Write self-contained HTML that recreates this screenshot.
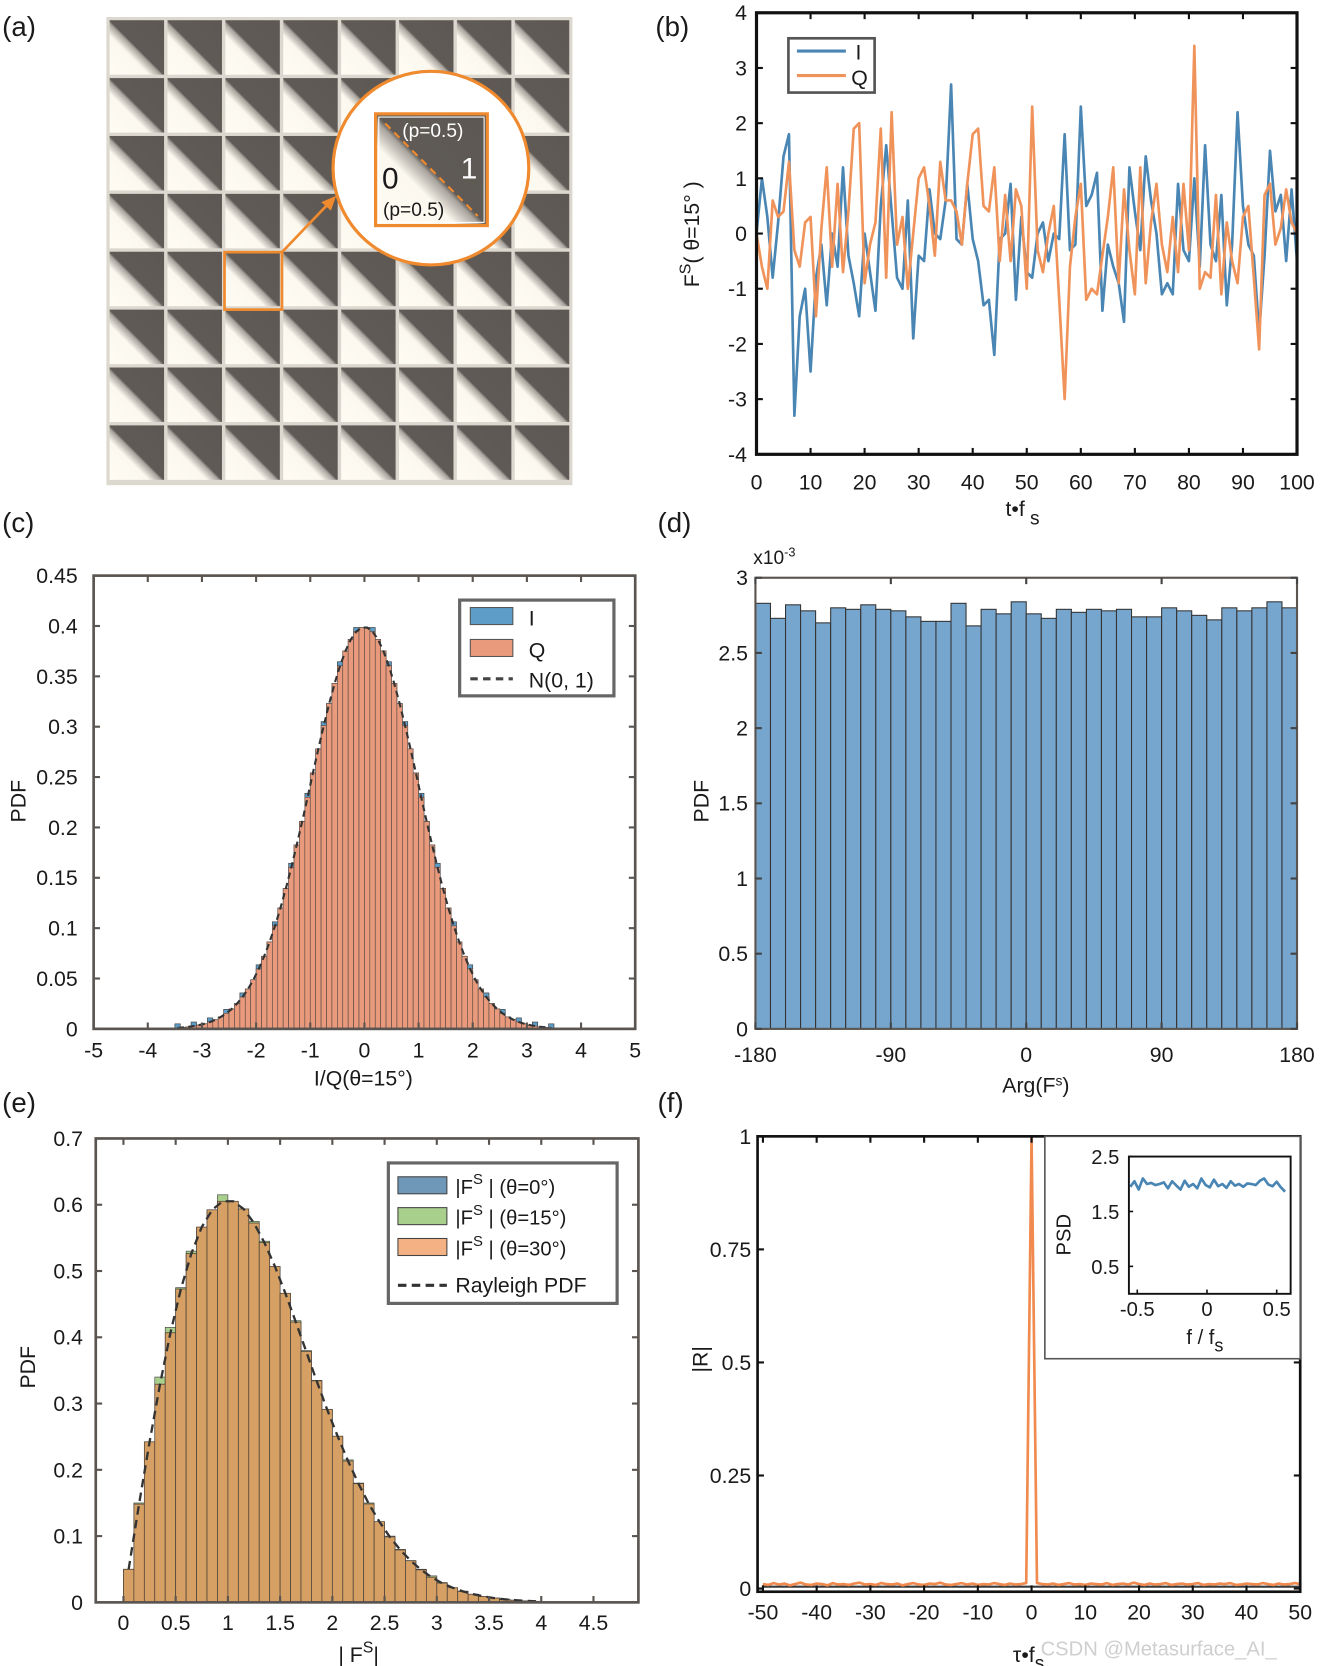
<!DOCTYPE html>
<html><head><meta charset="utf-8"><style>
html,body{margin:0;padding:0;background:#fff}
svg{display:block}
text{font-family:"Liberation Sans",sans-serif;fill:#1a1a1a}
</style></head><body>
<svg id="fig" xmlns="http://www.w3.org/2000/svg" width="1325" height="1666" viewBox="0 0 1245.3 1565.8" preserveAspectRatio="none">
<defs>
<linearGradient id="cellg" x1="0" y1="1" x2="1" y2="0">
<stop offset="0" stop-color="#fffcf3"/><stop offset="0.36" stop-color="#fbf8ef"/><stop offset="0.47" stop-color="#a9a49d"/><stop offset="0.5" stop-color="#5f5a55"/><stop offset="1" stop-color="#5d5853"/>
</linearGradient>
</defs>
<g id="pa"></g>
<g id="pb"></g>
<g id="pc"></g>
<g id="pd"></g>
<g id="pe"></g>
<g id="pf"></g>
</svg>
<script>
// ---- data ----
const bT = [0,10,20,30,40,50,60,70,80,90,100];
const bYT = [-4,-3,-2,-1,0,1,2,3,4];
const seriesI = [0,1,0.3,-0.8,0.2,1.4,1.8,-3.3,-1.5,-1,-2.5,-0.8,-0.2,-1.3,0,-0.6,1.2,-0.4,-0.9,-1.5,0,-0.7,-1.4,0.5,1.6,0.4,-0.8,-1,0.6,-1.9,-0.4,-0.5,0.8,0,-0.1,0.6,2.7,-0.1,-0.2,0.9,-0.1,-0.5,-1.3,-1.2,-2.2,-0.1,0,0.9,-1.2,0.3,-0.7,-0.8,0,0.2,-0.5,0,-0.1,1.8,-0.3,-0.2,2.3,0.5,0.7,1.1,-1.4,-0.2,-0.6,-0.9,-1.6,1.2,0.4,-0.3,1.4,0.6,0,-1.1,-0.9,-1.1,0.9,-0.3,-0.5,1,-0.6,1.6,-0.2,-0.5,0.7,-1.3,-0.2,2.2,0.5,-0.2,-0.4,-1.8,-0.4,1.5,0.4,0.7,-0.5,0.8,-0.5];
const seriesQ = [0,-0.6,-1,0.6,0.3,0.4,1.3,-0.3,-0.6,0.2,0.3,-1.5,0.1,1.2,-0.6,0.9,-0.7,0.4,1.9,2,-0.9,-0.2,0.2,1.9,-0.8,2.2,-0.2,0.3,-1,0,1,1.2,0.5,-0.4,1.3,0.6,0.6,0.4,-0.2,0.9,1.8,1.9,0.5,0.4,1.2,-0.5,0.7,-0.5,0.8,0.5,-1,2.3,-0.3,-0.7,0,0.5,-1.2,-3,-0.6,0.3,0.9,-1.2,-1,-1.1,-0.4,0.3,1.2,-0.9,0.8,-0.3,-1.1,1.2,-0.9,0.2,0.9,-0.2,-0.7,0.3,-0.7,0.9,-0.3,3.4,-1,-0.7,-0.8,0.7,-1.1,0.2,-0.5,-0.9,0.3,0.5,-0.8,-2.1,0.7,0.9,-0.2,0.1,0.8,0.2,0];

const cXT = [-5,-4,-3,-2,-1,0,1,2,3,4,5];
const cYT = [0,0.05,0.1,0.15,0.2,0.25,0.3,0.35,0.4,0.45];
const cBinStart = -3.5;
const cBinW = 0.1;
const cHalf = [0.0010,0.0015,0.0020,0.0028,0.0038,0.0051,0.0069,0.0091,0.0119,0.0154,0.0198,0.0252,0.0317,0.0396,0.0488,0.0596,0.0721,0.0863,0.1023,0.1200,0.1394,0.1604,0.1826,0.2059,0.2299,0.2541,0.2780,0.3011,0.3230,0.3429,0.3605,0.3752,0.3867,0.3945,0.3984];
const cQ = cHalf.concat(cHalf.slice().reverse());
const cI = cQ.map((v,i)=> v + ((i%3===0)?0.004:0));

const dXT = [-180,-90,0,90,180];
const dYT = [0,0.5,1,1.5,2,2.5,3];
const dVals = [2.83,2.73,2.82,2.78,2.70,2.80,2.79,2.82,2.79,2.78,2.74,2.71,2.71,2.83,2.68,2.79,2.76,2.84,2.76,2.73,2.79,2.77,2.79,2.78,2.79,2.74,2.74,2.80,2.78,2.75,2.72,2.80,2.78,2.80,2.84,2.80];

const eXT = [0,0.5,1,1.5,2,2.5,3,3.5,4,4.5];
const eXL = ["0","0.5","1","1.5","2","2.5","3","3.5","4","4.5"];
const eYT = [0,0.1,0.2,0.3,0.4,0.5,0.6,0.7];
const eBinW = 0.1;
const eVals = [0.0499,0.1483,0.2423,0.3292,0.4068,0.4729,0.5263,0.5663,0.5924,0.6052,0.6052,0.5937,0.5724,0.5428,0.5069,0.4664,0.4230,0.3786,0.3343,0.2913,0.2508,0.2133,0.1791,0.1485,0.1218,0.0988,0.0791,0.0628,0.0491,0.0380,0.0291,0.0221,0.0165,0.0123,0.0090,0.0065,0.0047,0.0033,0.0023,0.0016];
const eVals15 = [0.05,0.15,0.24,0.34,0.415,0.475,0.53,0.565,0.59,0.615,0.6,0.59,0.575,0.545,0.505,0.465,0.425,0.38,0.335,0.29,0.25,0.215,0.18,0.15,0.12,0.1,0.08,0.063,0.05,0.04,0.03,0.022,0.017,0.012,0.009,0.0065,0.0047,0.0033,0.0023,0.0016];

const fXT = [-50,-40,-30,-20,-10,0,10,20,30,40,50];
const fYT = [0,0.25,0.5,0.75,1];
const fYL = ["0","0.25","0.5","0.75","1"];
const fR = [0.01,0.008,0.012,0.009,0.011,0.007,0.01,0.013,0.009,0.008,0.011,0.01,0.007,0.012,0.009,0.01,0.008,0.011,0.013,0.009,0.01,0.008,0.012,0.01,0.009,0.011,0.007,0.01,0.012,0.009,0.008,0.011,0.01,0.013,0.009,0.008,0.01,0.012,0.009,0.011,0.008,0.01,0.009,0.012,0.01,0.008,0.011,0.009,0.01,0.012,1,0.012,0.01,0.009,0.011,0.008,0.01,0.012,0.009,0.01,0.008,0.011,0.01,0.009,0.012,0.008,0.01,0.011,0.009,0.013,0.01,0.008,0.011,0.009,0.01,0.012,0.008,0.01,0.011,0.009,0.01,0.012,0.008,0.01,0.009,0.011,0.01,0.012,0.008,0.009,0.011,0.01,0.009,0.012,0.01,0.008,0.011,0.009,0.01,0.012,0.01];
const fBase = [-50,50];
const fBaseV = [0.004,0.004];
const psdF = [-0.55,-0.52,-0.49,-0.46,-0.43,-0.4,-0.37,-0.34,-0.31,-0.28,-0.25,-0.22,-0.19,-0.16,-0.13,-0.1,-0.07,-0.04,-0.01,0.02,0.05,0.08,0.11,0.14,0.17,0.2,0.23,0.26,0.29,0.32,0.35,0.38,0.41,0.44,0.47,0.5,0.53,0.56];
const psdV = [1.95,2.05,1.9,2.1,2.0,2.02,1.98,2.0,2.03,1.92,2.05,1.97,1.9,2.06,1.95,2.0,1.92,2.1,1.98,1.94,2.08,1.96,2.0,1.93,2.05,1.97,2.0,1.95,2.01,2.0,1.98,2.06,2.1,1.99,1.96,2.04,1.94,1.86];
const psdXT = [-0.5,0,0.5];
const psdYT = [0.5,1.5,2.5];

// ---- helpers ----
const NS="http://www.w3.org/2000/svg";
function el(parent, tag, attrs, txt){
  const e=document.createElementNS(NS,tag);
  for(const k in attrs) e.setAttribute(k,attrs[k]);
  if(txt!==undefined) e.textContent=txt;
  parent.appendChild(e); return e;
}
function lin(d0,d1,r0,r1){return v=>r0+(v-d0)/(d1-d0)*(r1-r0);}

function frame(g,x0,y0,x1,y1,col,w,name){
  const r=el(g,'rect',{x:x0,y:y0,width:x1-x0,height:y1-y0,fill:'none',stroke:col,'stroke-width':w});
  
  
}
function xTicks(g,ticks,labels,sx,y0,y1,ly,fs,col,name){
  ticks.forEach((t,i)=>{
    const x=sx(t);
    el(g,'line',{x1:x,y1:y1,x2:x,y2:y1-6,stroke:col,'stroke-width':2});
    el(g,'line',{x1:x,y1:y0,x2:x,y2:y0+6,stroke:col,'stroke-width':2});
    const tx=el(g,'text',{x:x,y:ly,'font-size':fs,'text-anchor':'middle'},labels?labels[i]:String(t));
    
    
  });
}
function yTicks(g,ticks,labels,sy,x0,x1,lx,fs,col,name){
  ticks.forEach((t,i)=>{
    const y=sy(t);
    el(g,'line',{x1:x0,y1:y,x2:x0+6,y2:y,stroke:col,'stroke-width':2});
    el(g,'line',{x1:x1,y1:y,x2:x1-6,y2:y,stroke:col,'stroke-width':2});
    const tx=el(g,'text',{x:lx,y:y+7,'font-size':fs,'text-anchor':'end'},labels?labels[i]:String(t));
    
    
  });
}
function label(g,x,y,s,name,fs){
  const t=el(g,'text',{x:x,y:y,'font-size':fs||26},s);
  
  
  return t;
}
function poly(g,xs,ys,sx,sy,col,w,dash,name){
  const pts=xs.map((x,i)=>sx(x).toFixed(1)+','+sy(ys[i]).toFixed(1)).join(' ');
  const p=el(g,'polyline',{points:pts,fill:'none',stroke:col,'stroke-width':w,'stroke-linejoin':'round'});
  if(dash) p.setAttribute('stroke-dasharray',dash);
  
  
}

// ---- panel a ----
(function(){
  const g=document.getElementById('pa');
  label(g,2,34,'(a)','panel-a-label');
  el(g,'rect',{x:100,y:16,width:438,height:440,fill:'#dcd8cf'});
  const cw=54.4, gap=3.2;
  for(let r=0;r<8;r++)for(let c=0;c<8;c++){
    const cell=el(g,'rect',{x:103+c*cw,y:19+r*cw,width:cw-gap,height:cw-gap,fill:'url(#cellg)'});
    
    
  }
  const sel=el(g,'rect',{x:211,y:237,width:54,height:54,fill:'none',stroke:'#ef8a2e','stroke-width':2.5});
  
  
  const arr=el(g,'line',{x1:265,y1:237,x2:310,y2:190,stroke:'#ef8a2e','stroke-width':2.5});
  
  
  el(g,'polygon',{points:'316,184 302,190 311,198',fill:'#ef8a2e'});
  const circ=el(g,'ellipse',{cx:405,cy:158,rx:92,ry:91,fill:'#fff',stroke:'#ef8a2e','stroke-width':3});
  
  
  el(g,'rect',{x:353,y:107,width:105,height:105,fill:'url(#cellg)',stroke:'#ef8a2e','stroke-width':3});
  el(g,'rect',{x:356,y:110,width:99,height:99,fill:'none',stroke:'#fff','stroke-width':1});
  el(g,'line',{x1:362,y1:116,x2:449,y2:203,stroke:'#ef8a2e','stroke-width':2,'stroke-dasharray':'7,5'});
  label(g,378,129,'(p=0.5)','probability-top',18).style.fill='#fff';
  label(g,359,177,'0','bit-zero',28);
  label(g,433,168,'1','bit-one',28).style.fill='#fff';
  label(g,360,203,'(p=0.5)','probability-bottom',18);
})();

// ---- panel b ----
(function(){
  const g=document.getElementById('pb');
  label(g,616,34,'(b)','panel-b-label');
  const x0=711,x1=1219,y0=12,y1=427;
  const sx=lin(0,100,x0,x1), sy=lin(-4,4,y1,y0);
  poly(g,seriesI.map((v,i)=>i),seriesI,sx,sy,'#4a86b4',2.5,null,'series-i-line');
  poly(g,seriesQ.map((v,i)=>i),seriesQ,sx,sy,'#f0935b',2.5,null,'series-q-line');
  frame(g,x0,y0,x1,y1,'#111',3,'plot-frame');
  xTicks(g,bT,null,sx,y0,y1,460,20,'#111','x-tick-label');
  yTicks(g,bYT,null,sy,x0,x1,702,20,'#111','y-tick-label');
  const yl=el(g,'text',{x:0,y:0,'font-size':20,transform:'translate(657,270) rotate(-90)'},'');
  yl.innerHTML='F<tspan dy="-8" font-size="15">S</tspan><tspan dy="8">( θ=15° )</tspan>';
  
  
  const xl=el(g,'text',{x:945,y:485,'font-size':20},'');
  xl.innerHTML='t•f<tspan dy="8" font-size="18"> s</tspan>';
  
  
  const lg=el(g,'g',{});
  
  
  el(lg,'rect',{x:741,y:36,width:81,height:51,fill:'#fff',stroke:'#555','stroke-width':2.5});
  el(lg,'line',{x1:749,y1:48,x2:795,y2:48,stroke:'#4a86b4','stroke-width':3});
  el(lg,'line',{x1:749,y1:71,x2:795,y2:71,stroke:'#f0935b','stroke-width':3});
  label(lg,804,56,'I','legend-entry-i',20);
  label(lg,800,80,'Q','legend-entry-q',20);
})();

// ---- panel c ----
(function(){
  const g=document.getElementById('pc');
  label(g,2,500,'(c)','panel-c-label');
  const x0=88,x1=597,y0=541,y1=967;
  const sx=lin(-5,5,x0,x1), sy=lin(0,0.45,y1,y0);
  cI.forEach((v,i)=>{
    const b=el(g,'rect',{x:sx(cBinStart+i*cBinW),y:sy(v),width:sx(cBinW)-sx(0),height:y1-sy(v),fill:'#5d9dc8',stroke:'#3d3d3d','stroke-width':0.6});
    
    
  });
  cQ.forEach((v,i)=>{
    const b=el(g,'rect',{x:sx(cBinStart+i*cBinW),y:sy(v),width:sx(cBinW)-sx(0),height:y1-sy(v),fill:'#e99a7c',stroke:'#5a4a44','stroke-width':0.6});
    
    
  });
  poly(g,cQ.map((v,i)=>cBinStart+(i+0.5)*cBinW),cQ,sx,sy,'#333',2,'6,4','normal-pdf-curve');
  frame(g,x0,y0,x1,y1,'#5a5550',2.5,'plot-frame');
  xTicks(g,cXT,null,sx,y0,y1,994,20,'#5a5550','x-tick-label');
  yTicks(g,cYT,null,sy,x0,x1,73,20,'#5a5550','y-tick-label');
  const yl=el(g,'text',{x:0,y:0,'font-size':20,transform:'translate(24,773) rotate(-90)'},'PDF');
  
  
  label(g,295,1020,'I/Q(θ=15°)','x-axis-title',20);
  const lg=el(g,'g',{});
  
  
  el(lg,'rect',{x:432,y:564,width:145,height:90,fill:'#fff',stroke:'#666','stroke-width':3});
  el(lg,'rect',{x:442,y:571,width:40,height:16,fill:'#5d9dc8',stroke:'#555'});
  el(lg,'rect',{x:442,y:601,width:40,height:16,fill:'#e99a7c',stroke:'#555'});
  el(lg,'line',{x1:442,y1:638,x2:482,y2:638,stroke:'#444','stroke-width':3,'stroke-dasharray':'7,5'});
  label(lg,497,588,'I','legend-entry-i',20);
  label(lg,497,618,'Q','legend-entry-q',20);
  label(lg,497,646,'N(0, 1)','legend-entry-normal',20);
})();

// ---- panel d ----
(function(){
  const g=document.getElementById('pd');
  label(g,618,500,'(d)','panel-d-label');
  const x0=710,x1=1219,y0=543,y1=967;
  const sx=lin(-180,180,x0,x1), sy=lin(0,3,y1,y0);
  dVals.forEach((v,i)=>{
    const b=el(g,'rect',{x:sx(-180+i*10),y:sy(v),width:sx(10)-sx(0),height:y1-sy(v),fill:'#76a5cd',stroke:'#333','stroke-width':1});
    
    
  });
  frame(g,x0,y0,x1,y1,'#5a5550',2,'plot-frame');
  xTicks(g,dXT,null,sx,y0,y1,998,20,'#444','x-tick-label');
  yTicks(g,dYT,null,sy,x0,x1,703,20,'#444','y-tick-label');
  const ex=el(g,'text',{x:708,y:530,'font-size':18},'');
  ex.innerHTML='x10<tspan dy="-7" font-size="12">-3</tspan>';
  
  
  const yl=el(g,'text',{x:0,y:0,'font-size':20,transform:'translate(666,773) rotate(-90)'},'PDF');
  
  
  const xl=el(g,'text',{x:942,y:1027,'font-size':20},'');
  xl.innerHTML='Arg(F<tspan dy="-7" font-size="13">s</tspan><tspan dy="7">)</tspan>';
  
  
})();

// ---- panel e ----
(function(){
  const g=document.getElementById('pe');
  label(g,2,1045,'(e)','panel-e-label');
  const x0=90,x1=600,y0=1070,y1=1506;
  const sx=lin(-0.265,4.93,x0,x1), sy=lin(0,0.7,y1,y0);
  eVals15.forEach((v,i)=>{
    const b=el(g,'rect',{x:sx(i*eBinW),y:sy(v),width:sx(eBinW)-sx(0),height:y1-sy(v),fill:'#a9cf8c',stroke:'#444','stroke-width':0.6});
    
    
  });
  eVals.forEach((v,i)=>{
    const b=el(g,'rect',{x:sx(i*eBinW),y:sy(v),width:sx(eBinW)-sx(0),height:y1-sy(v),fill:'#d6a064',stroke:'#4a4036','stroke-width':0.7});
    
    
  });
  poly(g,eVals.map((v,i)=>(i+0.5)*eBinW),eVals,sx,sy,'#333',2.2,'8,5','rayleigh-pdf-curve');
  frame(g,x0,y0,x1,y1,'#5a5550',2.5,'plot-frame');
  xTicks(g,eXT,eXL,sx,y0,y1,1532,20,'#5a5550','x-tick-label');
  yTicks(g,eYT,null,sy,x0,x1,78,20,'#5a5550','y-tick-label');
  const yl=el(g,'text',{x:0,y:0,'font-size':20,transform:'translate(33,1305) rotate(-90)'},'PDF');
  
  
  const xl=el(g,'text',{x:318,y:1562,'font-size':20},'');
  xl.innerHTML='| F<tspan dy="-9" font-size="15">S</tspan><tspan dy="9">|</tspan>';
  
  
  const lg=el(g,'g',{});
  
  
  el(lg,'rect',{x:365,y:1093,width:215,height:132,fill:'#fff',stroke:'#666','stroke-width':3});
  const cols=['#6f97b8','#a9cf8c','#f4b183'];
  const names=['(θ=0°)','(θ=15°)','(θ=30°)'];
  cols.forEach((c,i)=>{
    el(lg,'rect',{x:374,y:1106+i*29,width:46,height:16,fill:c,stroke:'#444'});
    const t=el(lg,'text',{x:428,y:1122+i*29,'font-size':19},'');
    t.innerHTML='|F<tspan dy="-9" font-size="14">S</tspan><tspan dy="9"> | '+names[i]+'</tspan>';
    
    
  });
  el(lg,'line',{x1:374,y1:1208,x2:420,y2:1208,stroke:'#333','stroke-width':3,'stroke-dasharray':'8,5'});
  label(lg,428,1215,'Rayleigh PDF','legend-entry-rayleigh',20);
})();

// ---- panel f ----
(function(){
  const g=document.getElementById('pf');
  label(g,618,1045,'(f)','panel-f-label');
  const x0=712,x1=1222,y0=1068,y1=1496;
  const sx=lin(-51,50,x0,x1), sy=lin(0,1,1493,y0);
  poly(g,fBase,fBaseV,sx,sy,'#3a3a3a',2,null,'autocorr-baseline');
  poly(g,fR.map((v,i)=>i-50),fR,sx,sy,'#f08a4e',2.5,null,'autocorr-line');
  frame(g,x0,y0,x1,y1,'#111',2.5,'plot-frame');
  xTicks(g,fXT,null,sx,y0,y1,1522,20,'#111','x-tick-label');
  yTicks(g,fYT,fYL,sy,x0,x1,706,20,'#111','y-tick-label');
  const yl=el(g,'text',{x:0,y:0,'font-size':20,transform:'translate(665,1290) rotate(-90)'},'|R|');
  
  
  const xl=el(g,'text',{x:952,y:1562,'font-size':20},'');
  xl.innerHTML='τ•f<tspan dy="7" font-size="18">s</tspan>';
  
  
  // inset
  const ig=el(g,'g',{});
  
  
  el(ig,'rect',{x:982,y:1068,width:240,height:209,fill:'#fff',stroke:'#555','stroke-width':1.5});
  const ix0=1061,ix1=1213,iy0=1087,iy1=1216;
  const isx=lin(-0.56,0.6,ix0,ix1), isy=lin(0,2.5,iy1,iy0);
  poly(ig,psdF,psdV,isx,isy,'#4a86b4',2.5,null,'psd-line');
  frame(ig,ix0,iy0,ix1,iy1,'#111',1.8,'inset-frame');
  psdXT.forEach(t=>{
    el(ig,'line',{x1:isx(t),y1:iy1,x2:isx(t),y2:iy1-4,stroke:'#111','stroke-width':1.5});
    const tx=el(ig,'text',{x:isx(t),y:1237,'font-size':19,'text-anchor':'middle'},String(t));
    
    
  });
  psdYT.forEach(t=>{
    el(ig,'line',{x1:ix0,y1:isy(t),x2:ix0+4,y2:isy(t),stroke:'#111','stroke-width':1.5});
    const tx=el(ig,'text',{x:1052,y:isy(t)+7,'font-size':19,'text-anchor':'end'},String(t));
    
    
  });
  const iyl=el(ig,'text',{x:0,y:0,'font-size':19,transform:'translate(1006,1180) rotate(-90)'},'PSD');
  
  
  const ixl=el(ig,'text',{x:1115,y:1263,'font-size':19},'');
  ixl.innerHTML='f / f<tspan dy="7" font-size="17">s</tspan>';
  
  
  const wm=el(g,'text',{x:978,y:1556,'font-size':19},'CSDN @Metasurface_AI_');
  wm.style.fill='#cfcfcf';
  
  
})();
</script>
</body></html>
